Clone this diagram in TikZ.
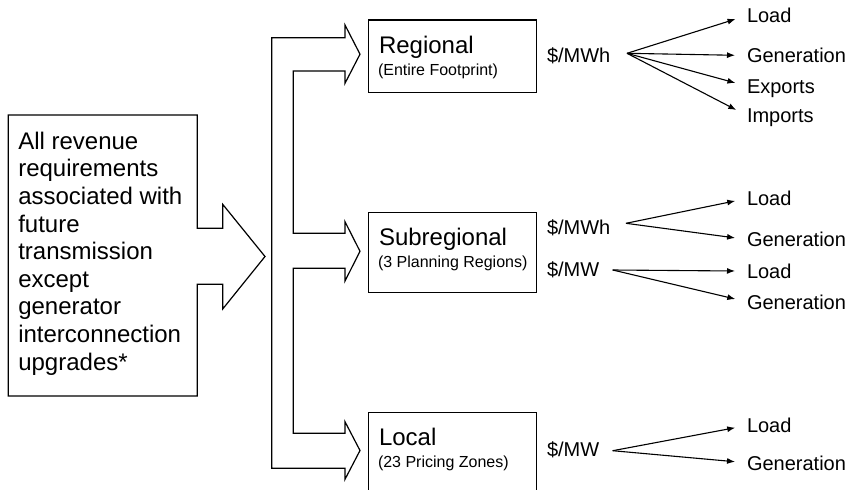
\documentclass[tikz,border=0pt]{standalone}
\usepackage{fontspec}
\setmainfont{Liberation Sans}
\usetikzlibrary{arrows.meta}
\begin{document}
\begin{tikzpicture}[x=1pt,y=-1pt, line width=1.2pt,
  every node/.style={inner sep=0pt, outer sep=0pt},
  big/.style={font=\fontsize{24}{27.6}\selectfont},
  small/.style={font=\fontsize{16}{19}\selectfont},
  rhs/.style={font=\fontsize{20}{23}\selectfont, text height=14.4pt, text depth=0pt},
  tierbox/.style={draw, anchor=north west, minimum width=168pt},
  arr/.style={-{Latex[length=8pt,width=6pt]}, line width=1.1pt, shorten >=12pt}]
\useasboundingbox (0,0) rectangle (855,490);
\clip (0,0) rectangle (855,490);

% source box with its big arrow
\draw (8.3,115) -- (197.3,115) -- (197.3,228.3) -- (222.7,228.3) -- (222.7,204.3)
  -- (265,256.5) -- (222.7,309) -- (222.7,284.3) -- (197.3,284.3) -- (197.3,396)
  -- (8.3,396) -- cycle;
\node[big, anchor=north west, align=left] (src) at (18.3,132)
  {All revenue\\requirements\\associated with\\future\\transmission\\except\\generator\\interconnection\\upgrades*};

% bracket arrows
\draw (271.7,37.7) -- (345,37.7) -- (345,25) -- (360,54.2) -- (345,83.3) -- (345,71)
  -- (293.3,71) -- (293.3,233.3) -- (345,233.3) -- (345,221.7) -- (360,251.3)
  -- (345,281) -- (345,268.3) -- (293.3,268.3) -- (293.3,433.3) -- (345,433.3)
  -- (345,421.7) -- (360,450.5) -- (345,479.3) -- (345,468.3) -- (271.7,468.3) -- cycle;

% tier boxes
\node[tierbox, minimum height=72.3pt] (reg) at (368.3,20) {};
\node[tierbox, minimum height=80pt] (sub) at (368.3,212.3) {};
\node[tierbox, minimum height=100pt] (loc) at (368.3,412.3) {};

\node[big, anchor=base west] (regT) at (379,53) {Regional};
\node[small, anchor=base west] (regS) at (378,75) {(Entire Footprint)};
\node[big, anchor=base west] (subT) at (379,245.3) {Subregional};
\node[small, anchor=base west] (subS) at (378,267.3) {(3 Planning Regions)};
\node[big, anchor=base west] (locT) at (379,445.3) {Local};
\node[small, anchor=base west] (locS) at (378,467.3) {(23 Pricing Zones)};

% regional rates
\node[rhs, anchor=base west] (rp) at (547,62.7) {\$/MWh};
\coordinate (r0) at (627,53.3);
\node[rhs, anchor=base west] (rL) at (747,22.7) {Load};
\node[rhs, anchor=base west] (rG) at (747,62.7) {Generation};
\node[rhs, anchor=base west] (rE) at (747,93.3) {Exports};
\node[rhs, anchor=base west] (rI) at (747,122.7) {Imports};
\draw[arr] (r0) -- (rL.west);
\draw[arr] (r0) -- (rG.west);
\draw[arr] (r0) -- (rE.west);
\draw[arr] (r0) -- (rI.west);

% subregional rates
\node[rhs, anchor=base west] (sp1) at (547,234.3) {\$/MWh};
\coordinate (s1) at (626,223.3);
\node[rhs, anchor=base west] (s1L) at (747,205.7) {Load};
\node[rhs, anchor=base west] (s1G) at (747,246.7) {Generation};
\draw[arr] (s1) -- (s1L.west);
\draw[arr] (s1) -- (s1G.west);

\node[rhs, anchor=base west] (sp2) at (547,276.7) {\$/MW};
\coordinate (s2) at (612.7,270);
\node[rhs, anchor=base west] (s2L) at (747,278.3) {Load};
\node[rhs, anchor=base west] (s2G) at (747,309) {Generation};
\draw[arr] (s2) -- (s2L.west);
\draw[arr] (s2) -- (s2G.west);

% local rates
\node[rhs, anchor=base west] (lp) at (547,456.7) {\$/MW};
\coordinate (l0) at (612.7,450.7);
\node[rhs, anchor=base west] (lL) at (747,432.7) {Load};
\node[rhs, anchor=base west] (lG) at (747,470) {Generation};
\draw[arr] (l0) -- (lL.west);
\draw[arr] (l0) -- (lG.west);
\end{tikzpicture}
\end{document}
